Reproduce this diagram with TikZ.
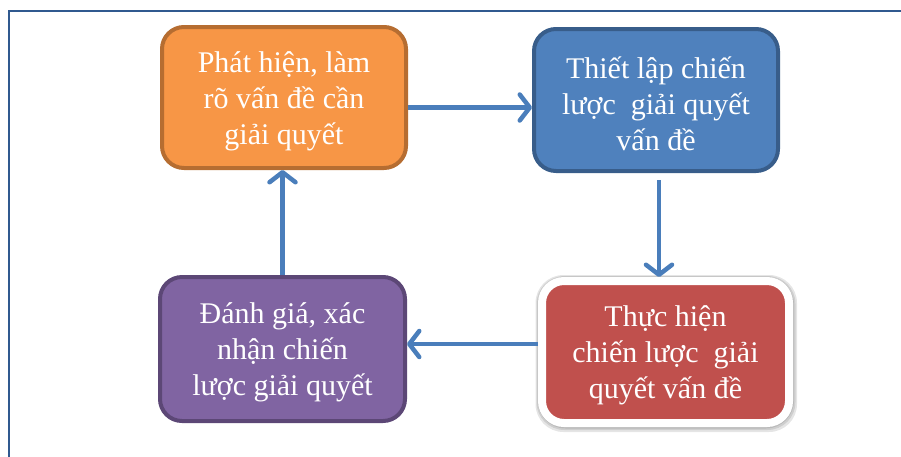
\documentclass[tikz,border=0pt]{standalone}
\usepackage{fontspec}
\setmainfont{Liberation Serif}
\usetikzlibrary{arrows.meta}
\definecolor{frameblue}{HTML}{30598F}
\definecolor{orfill}{HTML}{F79646}
\definecolor{ordraw}{HTML}{B66D31}
\definecolor{blfill}{HTML}{4F81BD}
\definecolor{bldraw}{HTML}{385D8A}
\definecolor{rdfill}{HTML}{C0504D}
\definecolor{pufill}{HTML}{8064A2}
\definecolor{pudraw}{HTML}{5C4776}
\definecolor{arrowblue}{HTML}{4A7EBB}
\tikzset{
  box/.style={rectangle, rounded corners=22pt, inner sep=0pt},
  boxtext/.style={align=center, text=white, inner sep=0pt,
    font=\fontsize{30}{36}\selectfont},
  arr/.style={draw=arrowblue, line width=4.5pt,
    -{Straight Barb[length=10pt,width=26pt,round]}},
  glow/.style={fill=black, opacity=0.1, rounded corners=28pt},
}
\begin{document}
\begin{tikzpicture}[x=1pt,y=-1pt]
\useasboundingbox (0,0) rectangle (901,456);
\clip (0,0) rectangle (901,456);
\draw[frameblue, line width=2.2pt] (9,11) rectangle (910,470);
\node[box, fill=orfill, draw=ordraw, line width=4pt, minimum width=244pt, minimum height=141pt] (orange) at (284,97.5) {};
\node[box, fill=blfill, draw=bldraw, line width=4pt, minimum width=244pt, minimum height=142pt] (blue) at (656,100) {};
\fill[glow] (535.5,275) rectangle (797,432);
\fill[glow] (536.5,276) rectangle (795.5,430);
\fill[glow] (537.5,276.5) rectangle (794,428.5);
\node[box, fill=rdfill, draw=white, line width=8pt, minimum width=247pt, minimum height=142pt] (red) at (665.5,352) {};
\node[box, fill=pufill, draw=pudraw, line width=4pt, minimum width=245pt, minimum height=144pt] (purple) at (282.5,349) {};
\node[boxtext] (orangetext) at ([yshift=-4pt]orange.center) {Phát hiện, làm\\rõ vấn đề cần\\giải quyết};
\node[boxtext] (bluetext) at ([yshift=-4pt]blue.center) {Thiết lập chiến\\lược\ \ giải quyết\\vấn đề};
\node[boxtext] (redtext) at ([yshift=-3pt]red.center) {Thực hiện\\chiến lược\ \ giải\\quyết vấn đề};
\node[boxtext] (purpletext) at ([yshift=-3pt]purple.center) {Đánh giá, xác\\nhận chiến\\lược giải quyết};
\draw[arr] ([yshift=-10pt]orange.east) -- ([yshift=-10pt]orange.east -| blue.west);
\draw[arr, shorten <=7pt] ([xshift=3pt]blue.south) -- ([xshift=3pt]blue.south |- red.north);
\draw[arr] ([yshift=8pt]red.west) -- ([yshift=8pt]red.west -| purple.east);
\draw[arr] (purple.north) -- (purple.north |- orange.south);
\end{tikzpicture}
\end{document}
